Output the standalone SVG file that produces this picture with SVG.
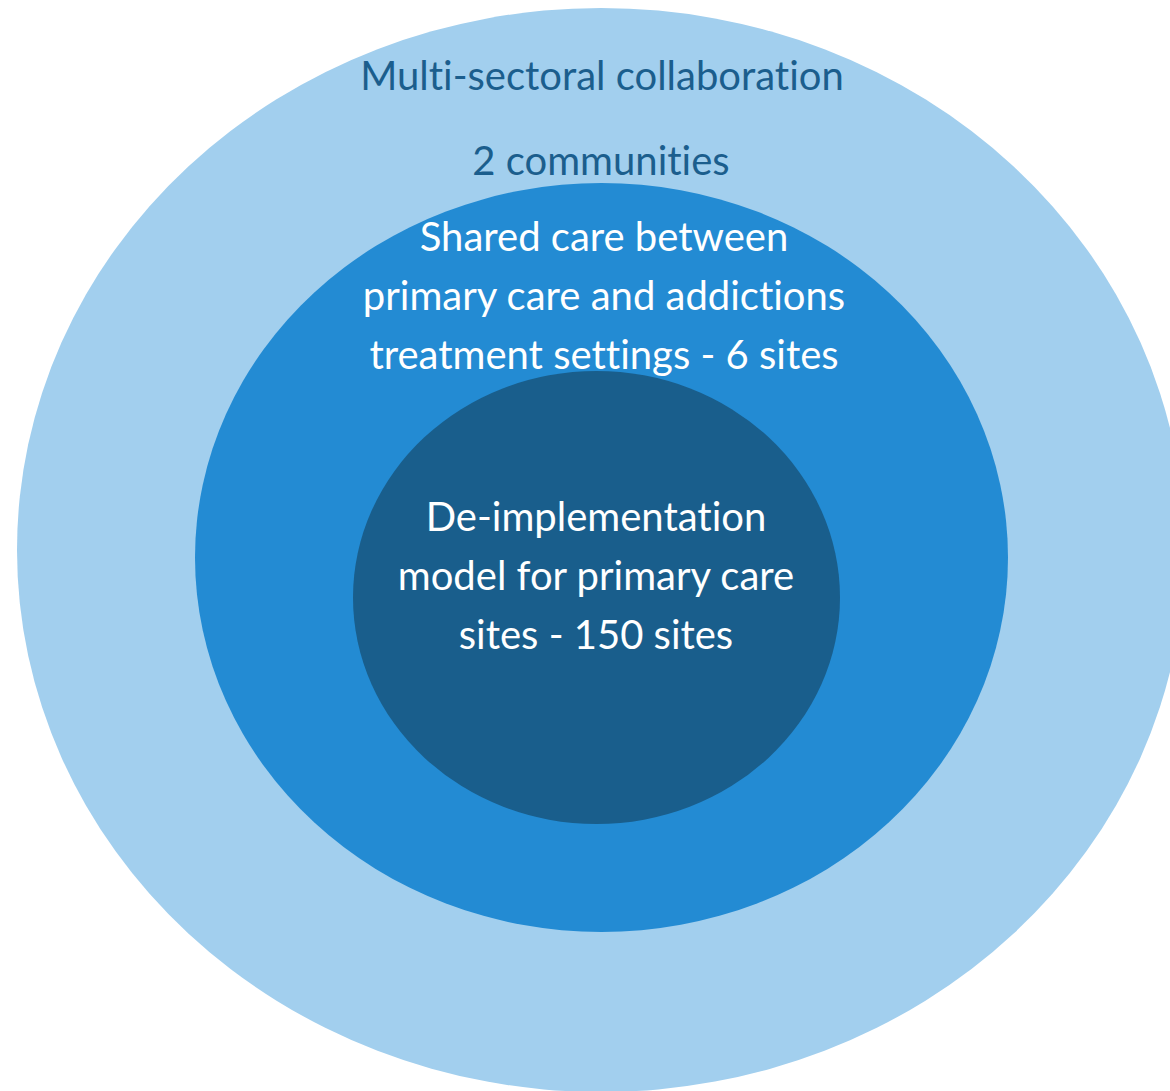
<svg xmlns="http://www.w3.org/2000/svg" width="1170" height="1091" viewBox="0 0 1170 1091">
<style>
.t{font-family:Lato,"Open Sans","Liberation Sans",sans-serif;font-size:40px;text-anchor:middle;font-variant-ligatures:none;font-feature-settings:"liga" 0,"clig" 0}
.dark{fill:#1B5E8D}
.white{fill:#FFFFFF}
</style>
<rect width="1170" height="1091" fill="#FFFFFF"/>
<g id="outer">
<ellipse cx="601" cy="550" rx="584" ry="542" fill="#A2CFEE"/>
<text class="t dark" x="602" y="90">Multi-sectoral collaboration</text>
<text class="t dark" x="601" y="175">2 communities</text>
</g>
<g id="middle">
<ellipse cx="601.5" cy="557.5" rx="406.5" ry="374.5" fill="#238BD3"/>
<text class="t white" x="604" y="251">Shared care between</text>
<text class="t white" x="604" y="310">primary care and addictions</text>
<text class="t white" x="604" y="369">treatment settings - 6 sites</text>
</g>
<g id="inner">
<ellipse cx="596.5" cy="597.5" rx="243.5" ry="226.5" fill="#195E8C"/>
<text class="t white" x="596" y="531">De-implementation</text>
<text class="t white" x="596" y="590">model for primary care</text>
<text class="t white" x="596" y="649">sites - 150 sites</text>
</g>
<g id="connectors"/>
</svg>
